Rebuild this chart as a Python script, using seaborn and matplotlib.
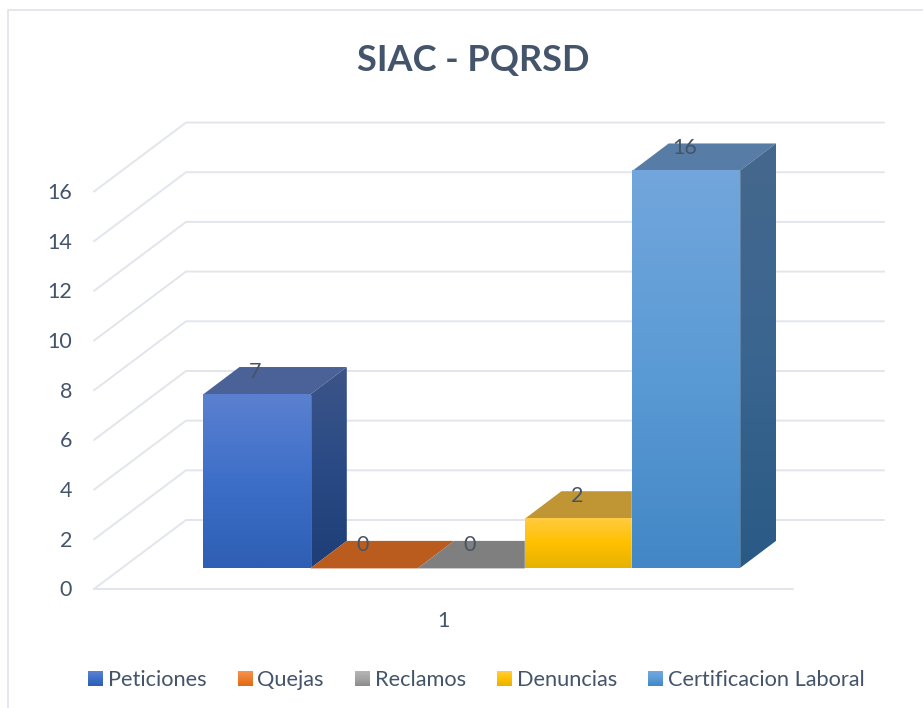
import numpy as np
import pandas as pd
import seaborn as sns
import matplotlib.pyplot as plt
from matplotlib.colors import LinearSegmentedColormap
from matplotlib.legend_handler import HandlerBase
from matplotlib.patches import Polygon, Rectangle

series = ["Peticiones", "Quejas", "Reclamos", "Denuncias", "Certificacion Laboral"]
values = [7, 0, 0, 2, 16]
y_ticks = [0, 2, 4, 6, 8, 10, 12, 14, 16]
category_label = "1"

front_colors = [["#5b80d0", "#3d6fc9", "#2e5fb4"],
                ["#f4924e", "#ed7d31", "#e06a14"],
                ["#b4b4b4", "#a5a5a5", "#8c8c8c"],
                ["#ffcb40", "#ffc000", "#e6b200"],
                ["#72a6dc", "#5b9bd5", "#4387c6"]]
side_colors = [["#3c5588", "#2a4a85", "#1e3e78"],
               ["#b95c1e", "#b95c1e", "#b95c1e"],
               ["#7f7f7f", "#7f7f7f", "#7f7f7f"],
               ["#bf9633", "#b08a20", "#a07c10"],
               ["#45688d", "#3a6590", "#295a85"]]
top_colors = ["#4a6298", "#b95c1e", "#7f7f7f", "#bf9633", "#577ca5"]

text_color = "#44546a"
grid_color = "#e2e5ec"
border_color = "#dfe4ea"

# pixel layout of the picture
W, H = 923, 708
bar_w_px = 107.3
unit_px = 24.84
x0_px, y0_px = 203, 568.4


def xd(px):
    return (px - x0_px) / bar_w_px - 0.5


def yd(py):
    return (y0_px - py) / unit_px


depth_x = 36.5 / bar_w_px
depth_y = 27.5 / unit_px
overlap = 1.5 / bar_w_px

sns.set_style("white")
plt.rcParams["font.family"] = ["Lato", "DejaVu Sans"]

df = pd.DataFrame({"serie": series, "valor": values})

fig = plt.figure(figsize=(W / 100, H / 100), dpi=100)
ax = fig.add_axes([0, 0, 1, 1])
sns.barplot(data=df, x="serie", y="valor", hue="serie", order=series, hue_order=series,
            palette=[c[1] for c in front_colors], width=1, dodge=False, saturation=1,
            legend=True, ax=ax)

# walls and floor
back_off = yd(520)
front_off = yd(589)
for v in y_ticks:
    ax.plot([xd(94), xd(186), xd(884)],
            [v + front_off, v + back_off, v + back_off],
            color=grid_color, lw=1.4, zorder=1, solid_joinstyle="miter")
    ax.text(xd(72), v + front_off - 1.5 / unit_px, str(v), ha="right", va="center",
            fontsize=15.5, color=text_color)
ax.plot([xd(94), xd(793)], [front_off, front_off], color=grid_color, lw=1.4, zorder=1)
ax.text(xd(443), yd(621), category_label, ha="center", va="center", fontsize=15.5, color=text_color)


def gradient(colors, extent, zorder, clip=None):
    cmap = LinearSegmentedColormap.from_list("g", colors)
    im = ax.imshow(np.linspace(0, 1, 128).reshape(-1, 1), cmap=cmap, extent=extent,
                   aspect="auto", zorder=zorder, interpolation="bilinear")
    if clip is not None:
        clip.set_transform(ax.transData)
        im.set_clip_path(clip)
    return im


# 3D faces built from the bars seaborn has drawn
for i, container in enumerate(ax.containers):
    bar = container[0]
    x, w, h = bar.get_x(), bar.get_width(), bar.get_height()
    z = 2 + i * 0.1
    ax.add_patch(Polygon([(x, h), (x + w, h), (x + w + depth_x, h + depth_y), (x + depth_x, h + depth_y)],
                         closed=True, facecolor=top_colors[i], edgecolor="none", zorder=z))
    if h > 0:
        # side starts a little under the front face so no gap shows between them
        side = Polygon([(x + w - overlap, 0), (x + w, 0), (x + w + depth_x, depth_y),
                        (x + w + depth_x, h + depth_y), (x + w, h), (x + w - overlap, h)], closed=True)
        gradient(side_colors[i], (x + w - overlap, x + w + depth_x, 0, h + depth_y), z, clip=side)
        bar.set_zorder(z + 0.01)
        gradient(front_colors[i], (x, x + w, 0, h), z + 0.02)
    else:
        bar.set_visible(False)
    ax.text(x + w / 2 - 1.5 / bar_w_px, h + 23 / unit_px, str(values[i]), ha="center", va="center",
            fontsize=15.5, color="#475465", zorder=5)

ax.text(xd(473), yd(60), "SIAC - PQRSD", ha="center", va="center", fontsize=26,
        fontweight="bold", color=text_color)

ax.set_xlim(xd(0), xd(W))
ax.set_ylim(yd(H), yd(0))
ax.axis("off")


class GradHandler(HandlerBase):
    def __init__(self, colors):
        super().__init__()
        self.colors = colors

    def create_artists(self, legend, orig_handle, xdescent, ydescent, width, height, fontsize, trans):
        cmap = LinearSegmentedColormap.from_list("g", self.colors)
        n = 15
        strips = []
        for k in range(n):
            strips.append(Rectangle((-xdescent, -ydescent + height * (n - k - 1) / n), width, height / n * 1.05,
                                    facecolor=cmap(k / (n - 1)), edgecolor="none", transform=trans))
        return strips


handles, labels = ax.get_legend_handles_labels()
leg = ax.legend(handles, labels, ncol=5, frameon=False, fontsize=15.7, labelcolor=text_color,
                loc="center left", bbox_to_anchor=(71 / W, 1 - 680 / H), borderpad=0.3,
                handlelength=0.69, handleheight=0.69, handletextpad=0.2, columnspacing=1.44,
                handler_map={h: GradHandler(front_colors[i]) for i, h in enumerate(handles)})

# chart border
ax.plot([xd(8), xd(8), xd(W)], [yd(H), yd(10), yd(10)], color=border_color, lw=1.2, zorder=0)

fig.savefig("out.png", dpi=100)
